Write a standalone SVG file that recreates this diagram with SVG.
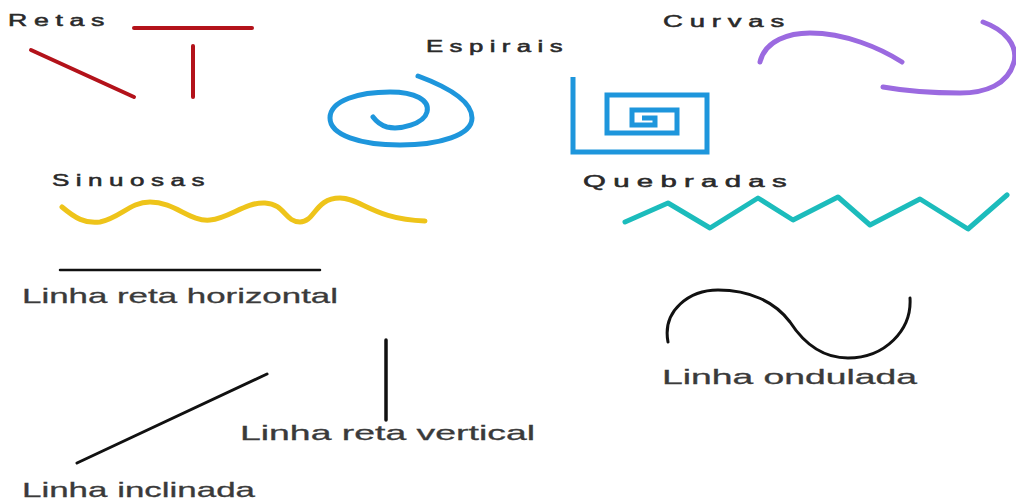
<svg xmlns="http://www.w3.org/2000/svg" width="1016" height="501" viewBox="0 0 1016 501">
<style>
.lbl{font-family:"Liberation Sans",Arial,sans-serif;font-size:16px;fill:#2a2a2a;stroke:#2a2a2a;stroke-width:0.5;letter-spacing:4px;}
.cap{font-family:"Liberation Sans",Arial,sans-serif;font-size:21px;fill:#3a3a3a;stroke:#3a3a3a;stroke-width:0.3;}
.red{stroke:#b3121a;stroke-width:4;stroke-linecap:round;fill:none;}
.blue{stroke:#1e96dc;stroke-width:5;stroke-linecap:round;fill:none;}
.purple{stroke:#9b6ae0;stroke-width:5;stroke-linecap:round;fill:none;}
.yellow{stroke:#eec41a;stroke-width:5;stroke-linecap:round;fill:none;}
.teal{stroke:#1cbcbc;stroke-width:5;stroke-linecap:round;stroke-linejoin:round;fill:none;}
.blk{stroke:#111;stroke-width:3;stroke-linecap:round;fill:none;}
</style>
<rect width="1016" height="501" fill="#fff"/>
<g id="retas">
<text class="lbl" x="8" y="26" textLength="103" lengthAdjust="spacingAndGlyphs">Retas</text>
<line class="red" x1="134" y1="28" x2="252" y2="28"/>
<line class="red" x1="193" y1="46" x2="193" y2="97"/>
<line class="red" x1="31" y1="50" x2="134" y2="97"/>
</g>
<g id="espirais">
<text class="lbl" x="426" y="52" textLength="143" lengthAdjust="spacingAndGlyphs">Espirais</text>
<path class="blue" d="M418,76 C445,86 472,100 472,118 C472,135 440,145 400,145 C360,145 330,135 330,118 C330,100 360,92 390,92 C415,92 430,100 427,112 C424,124 400,130 387,127 C380,125 376,121 373,117"/>
<path class="blue" d="M573,77 L573,152 L707,152 L707,95 L607,95 L607,133 L677,133 L677,110 L632,110 L632,125 L655,125 L655,118 L642,118" style="stroke-linecap:butt"/>
</g>
<g id="curvas">
<text class="lbl" x="663" y="27" textLength="128" lengthAdjust="spacingAndGlyphs">Curvas</text>
<path class="purple" d="M760,62 C765,40 790,33 810,33 C845,33 880,48 902,62"/>
<path class="purple" d="M983,22 C1005,30 1018,45 1014,62 C1008,85 985,93 960,93 C925,93 900,90 883,87"/>
</g>
<g id="sinuosas">
<text class="lbl" x="52" y="186" textLength="159" lengthAdjust="spacingAndGlyphs">Sinuosas</text>
<path class="yellow" d="M62,207 C75,218 85,224 100,222 C120,218 130,202 150,202 C175,202 190,222 210,220 C230,218 245,202 265,203 C285,204 285,222 300,222 C315,222 315,198 340,198 C360,198 375,220 425,221"/>
</g>
<g id="quebradas">
<text class="lbl" x="583" y="187" textLength="211" lengthAdjust="spacingAndGlyphs">Quebradas</text>
<polyline class="teal" points="625,222 668,203 710,228 758,198 793,220 838,197 870,225 920,199 968,229 1007,195"/>
</g>
<g id="horizontal">
<line class="blk" x1="60" y1="270" x2="320" y2="270" style="stroke-width:2.5"/>
<text class="cap" x="22" y="303" textLength="316" lengthAdjust="spacingAndGlyphs">Linha reta horizontal</text>
</g>
<g id="vertical">
<line class="blk" x1="386" y1="340" x2="386" y2="420" style="stroke-width:3.5"/>
<text class="cap" x="240" y="440" textLength="295" lengthAdjust="spacingAndGlyphs">Linha reta vertical</text>
</g>
<g id="inclinada">
<line class="blk" x1="77" y1="463" x2="267" y2="374"/>
<text class="cap" x="22" y="497" textLength="233" lengthAdjust="spacingAndGlyphs">Linha inclinada</text>
</g>
<g id="ondulada">
<path class="blk" d="M668,342 C662,310 690,290 718,290 C750,290 775,302 790,322 C805,345 825,358 848,358 C885,358 912,330 910,298"/>
<text class="cap" x="662" y="384" textLength="255" lengthAdjust="spacingAndGlyphs">Linha ondulada</text>
</g>
</svg>
